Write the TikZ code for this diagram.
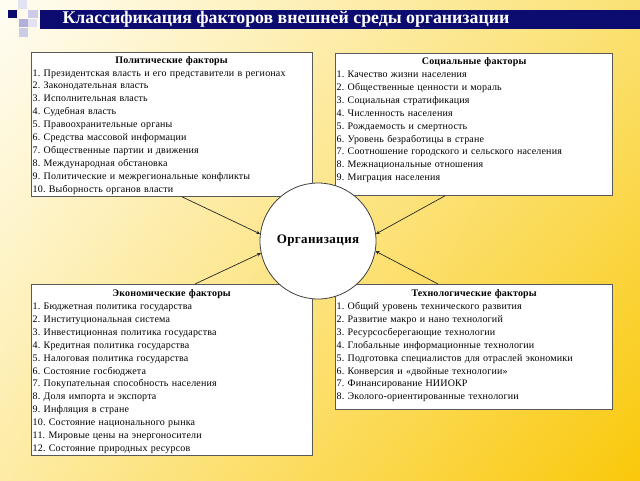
\documentclass[tikz,border=0pt]{standalone}
\usepackage{fontspec}
\setmainfont{Liberation Serif}
\usepackage{tikz}
\usepackage{xcolor}
\usetikzlibrary{shadings}

\definecolor{navybar}{RGB}{12,12,112}
\definecolor{lav1}{RGB}{176,176,218}
\definecolor{lav2}{RGB}{204,204,232}
\definecolor{lav3}{RGB}{226,226,242}
\definecolor{bgul}{RGB}{255,253,244}
\definecolor{bgur}{RGB}{251,225,115}
\definecolor{bgll}{RGB}{253,236,165}
\definecolor{bglr}{RGB}{250,200,10}

\begin{document}
\frenchspacing
\begin{tikzpicture}[x=1pt, y=-1pt, >=stealth,
    factbox/.style={draw=black!65, fill=white, line width=0.8pt, anchor=north west, inner sep=0pt},
    factlist/.style={anchor=north west, inner sep=0pt, align=left, text width=#1,
        font=\fontsize{10}{12.9}\selectfont\addfontfeatures{LetterSpace=1.7}},
    influence/.style={->, draw=black!85, line width=0.7pt}]

        \useasboundingbox (0,0) rectangle (640,480);
        \shade[upper left=bgul, upper right=bgur, lower left=bgll, lower right=bglr]
            (0,0) rectangle (640,480);

        \fill[navybar] (8,10) rectangle (17,18);
        \fill[lav3] (18,0) rectangle (27,9);
        \fill[lav2] (28,10) rectangle (38,18);
        \fill[lav1] (19,19) rectangle (28,27);
        \fill[lav3] (28,19) rectangle (37,27);
        \fill[lav2] (19,28) rectangle (28,37);
        \fill[navybar] (40,10) rectangle (640,29);
        \node[anchor=west, text=white, font=\fontsize{17.8}{20}\selectfont\bfseries] (title) at (59,19.5)
            {Классификация факторов внешней среды организации};

        \node[factbox, minimum width=281pt, minimum height=144pt] (polit) at (31,52) {};
        \node[factbox, minimum width=277pt, minimum height=142pt] (soc) at (335,53) {};
        \node[factbox, minimum width=281pt, minimum height=171pt] (econ) at (31,284) {};
        \node[factbox, minimum width=277pt, minimum height=125pt] (tech) at (335,284) {};

        \node[factlist=278pt] (politlist) at (32.5,56) {\hfill\textbf{Политические факторы}\hfill\null\\
            1. Президентская власть и его представители в регионах\\
            2. Законодательная власть\\
            3. Исполнительная власть\\
            4. Судебная власть\\
            5. Правоохранительные органы\\
            6. Средства массовой информации\\
            7. Общественные партии и движения\\
            8. Международная обстановка\\
            9. Политические и межрегиональные конфликты\\
            10. Выборность органов власти};
        \node[factlist=275pt] (soclist) at (336.5,57.5) {\hfill\textbf{Социальные факторы}\hfill\null\\
            1. Качество жизни населения\\
            2. Общественные ценности и мораль\\
            3. Социальная стратификация\\
            4. Численность населения\\
            5. Рождаемость и смертность\\
            6. Уровень безработицы в стране\\
            7. Соотношение городского и сельского населения\\
            8. Межнациональные отношения\\
            9. Миграция населения};
        \node[factlist=278pt] (econlist) at (32.5,289.5) {\hfill\textbf{Экономические факторы}\hfill\null\\
            1. Бюджетная политика государства\\
            2. Институциональная система\\
            3. Инвестиционная политика государства\\
            4. Кредитная политика государства\\
            5. Налоговая политика государства\\
            6. Состояние госбюджета\\
            7. Покупательная способность населения\\
            8. Доля импорта и экспорта\\
            9. Инфляция в стране\\
            10. Состояние национального рынка\\
            11. Мировые цены на энергоносители\\
            12. Состояние природных ресурсов};
        \node[factlist=275pt] (techlist) at (336.5,289.5) {\hfill\textbf{Технологические факторы}\hfill\null\\
            1. Общий уровень технического развития\\
            2. Развитие макро и нано технологий\\
            3. Ресурсосберегающие технологии\\
            4. Глобальные информационные технологии\\
            5. Подготовка специалистов для отраслей экономики\\
            6. Конверсия и «двойные технологии»\\
            7. Финансирование НИИОКР\\
            8. Эколого-ориентированные технологии};

        \node[draw=black!75, line width=0.8pt, fill=white, circle, minimum size=116pt,
              font=\fontsize{13}{15}\selectfont\bfseries\addfontfeatures{LetterSpace=3}] (org) at (318,241) {Организация};

        \draw[influence] ([xshift=151pt]polit.south west) -- (org.173);
        \draw[influence] ([xshift=110pt]soc.south west) -- (org.7);
        \draw[influence] ([xshift=164pt]econ.north west) -- (org.192);
        \draw[influence] ([xshift=103pt]tech.north west) -- (org.-10);

    \end{tikzpicture}
\end{document}
